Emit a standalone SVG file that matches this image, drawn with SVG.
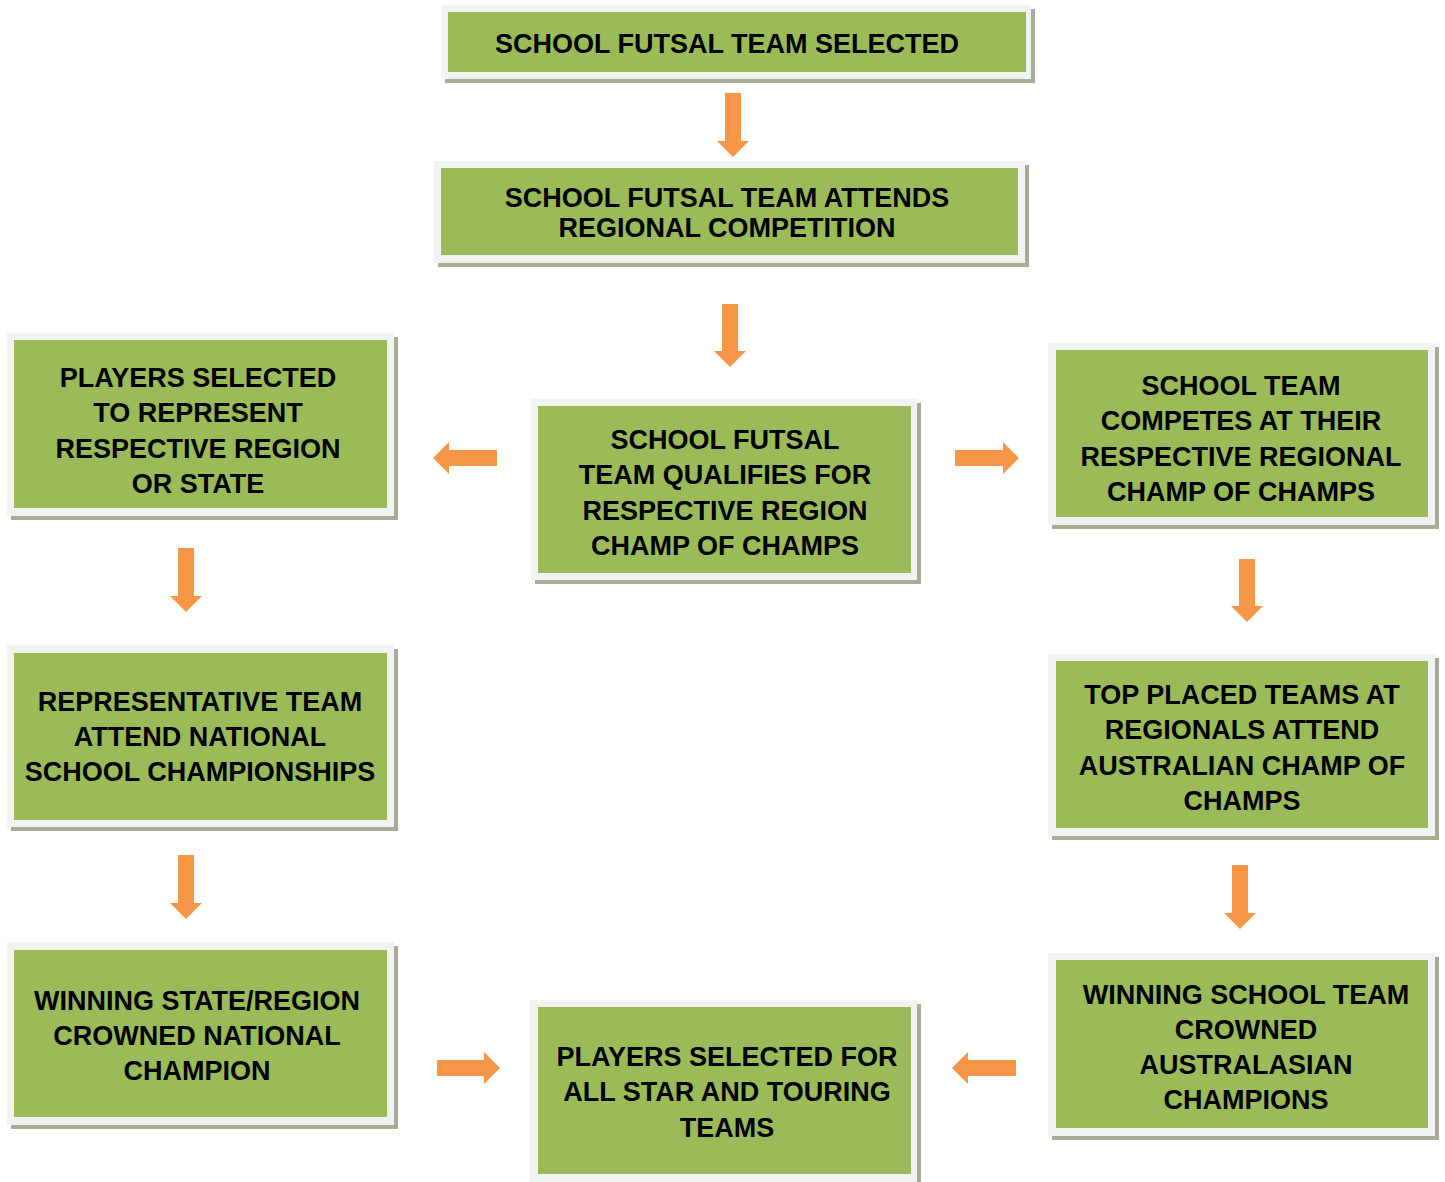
<svg xmlns="http://www.w3.org/2000/svg" width="1445" height="1182" viewBox="0 0 1445 1182">
<style>
.sh{fill:#a6ad94}
.fr{fill:#f2f2f2}
.bx{fill:#9bbb59}
.t{font-family:"Liberation Sans",Arial,sans-serif;font-weight:bold;font-size:27px;fill:#000;text-anchor:middle}
.ar{fill:#f79646}
</style>
<rect width="1445" height="1182" fill="#fff"/>
<g id="n1"><rect class="sh" x="445" y="9" width="590" height="74"/><rect class="fr" x="441" y="5" width="590" height="74"/><rect class="bx" x="448" y="12" width="578" height="60"/>
<text class="t" x="727" y="53">SCHOOL FUTSAL TEAM SELECTED</text></g>
<g id="n2"><rect class="sh" x="438" y="165" width="591" height="102"/><rect class="fr" x="434" y="161" width="591" height="102"/><rect class="bx" x="441" y="168" width="577" height="87"/>
<text class="t" x="727" y="207">SCHOOL FUTSAL TEAM ATTENDS</text><text class="t" x="727" y="237">REGIONAL COMPETITION</text></g>
<g id="n3"><rect class="sh" x="535" y="403" width="386" height="181"/><rect class="fr" x="531" y="399" width="386" height="181"/><rect class="bx" x="538" y="406" width="373" height="167"/>
<text class="t" x="725" y="449">SCHOOL FUTSAL</text><text class="t" x="725" y="484">TEAM QUALIFIES FOR</text><text class="t" x="725" y="520">RESPECTIVE REGION</text><text class="t" x="725" y="555">CHAMP OF CHAMPS</text></g>
<g id="l1"><rect class="sh" x="11" y="337" width="387" height="183"/><rect class="fr" x="7" y="333" width="387" height="183"/><rect class="bx" x="14" y="340" width="373" height="168"/>
<text class="t" x="198" y="387">PLAYERS SELECTED</text><text class="t" x="198" y="422">TO REPRESENT</text><text class="t" x="198" y="458">RESPECTIVE REGION</text><text class="t" x="198" y="493">OR STATE</text></g>
<g id="r1"><rect class="sh" x="1052" y="347" width="387" height="182"/><rect class="fr" x="1048" y="343" width="387" height="182"/><rect class="bx" x="1056" y="350" width="372" height="167"/>
<text class="t" x="1241" y="395">SCHOOL TEAM</text><text class="t" x="1241" y="430">COMPETES AT THEIR</text><text class="t" x="1241" y="466">RESPECTIVE REGIONAL</text><text class="t" x="1241" y="501">CHAMP OF CHAMPS</text></g>
<g id="l2"><rect class="sh" x="11" y="649" width="387" height="182"/><rect class="fr" x="7" y="645" width="387" height="182"/><rect class="bx" x="14" y="653" width="373" height="167"/>
<text class="t" x="200" y="711">REPRESENTATIVE TEAM</text><text class="t" x="200" y="746">ATTEND NATIONAL</text><text class="t" x="200" y="781">SCHOOL CHAMPIONSHIPS</text></g>
<g id="r2"><rect class="sh" x="1052" y="658" width="387" height="182"/><rect class="fr" x="1048" y="654" width="387" height="182"/><rect class="bx" x="1056" y="661" width="372" height="167"/>
<text class="t" x="1242" y="704">TOP PLACED TEAMS AT</text><text class="t" x="1242" y="739">REGIONALS ATTEND</text><text class="t" x="1242" y="775">AUSTRALIAN CHAMP OF</text><text class="t" x="1242" y="810">CHAMPS</text></g>
<g id="l3"><rect class="sh" x="11" y="946" width="387" height="183"/><rect class="fr" x="7" y="942" width="387" height="183"/><rect class="bx" x="14" y="950" width="373" height="167"/>
<text class="t" x="197" y="1010">WINNING STATE/REGION</text><text class="t" x="197" y="1045">CROWNED NATIONAL</text><text class="t" x="197" y="1080">CHAMPION</text></g>
<g id="b"><rect class="sh" x="534" y="1004" width="387" height="182"/><rect class="fr" x="530" y="1000" width="387" height="182"/><rect class="bx" x="538" y="1007" width="373" height="167"/>
<text class="t" x="727" y="1066">PLAYERS SELECTED FOR</text><text class="t" x="727" y="1101">ALL STAR AND TOURING</text><text class="t" x="727" y="1137">TEAMS</text></g>
<g id="r3"><rect class="sh" x="1052" y="957" width="387" height="183"/><rect class="fr" x="1048" y="953" width="387" height="183"/><rect class="bx" x="1056" y="960" width="372" height="168"/>
<text class="t" x="1246" y="1004">WINNING SCHOOL TEAM</text><text class="t" x="1246" y="1039">CROWNED</text><text class="t" x="1246" y="1074">AUSTRALASIAN</text><text class="t" x="1246" y="1109">CHAMPIONS</text></g>
<g id="connectors">
<polygon class="ar" points="725,93 741,93 741,141 749,141 733,157 717,141 725,141"/>
<polygon class="ar" points="722,304 738,304 738,351 746,351 730,367 714,351 722,351"/>
<polygon class="ar" points="178,548 194,548 194,596 202,596 186,612 170,596 178,596"/>
<polygon class="ar" points="178,855 194,855 194,903 202,903 186,919 170,903 178,903"/>
<polygon class="ar" points="1239,559 1255,559 1255,606 1263,606 1247,622 1231,606 1239,606"/>
<polygon class="ar" points="1232,865 1248,865 1248,913 1256,913 1240,929 1224,913 1232,913"/>
<polygon class="ar" points="497,450 497,466 449,466 449,474 433,458 449,442 449,450"/>
<polygon class="ar" points="955,450 955,466 1003,466 1003,474 1019,458 1003,442 1003,450"/>
<polygon class="ar" points="437,1060 437,1076 484,1076 484,1084 500,1068 484,1052 484,1060"/>
<polygon class="ar" points="1016,1060 1016,1076 968,1076 968,1084 952,1068 968,1052 968,1060"/>
</g>
</svg>
